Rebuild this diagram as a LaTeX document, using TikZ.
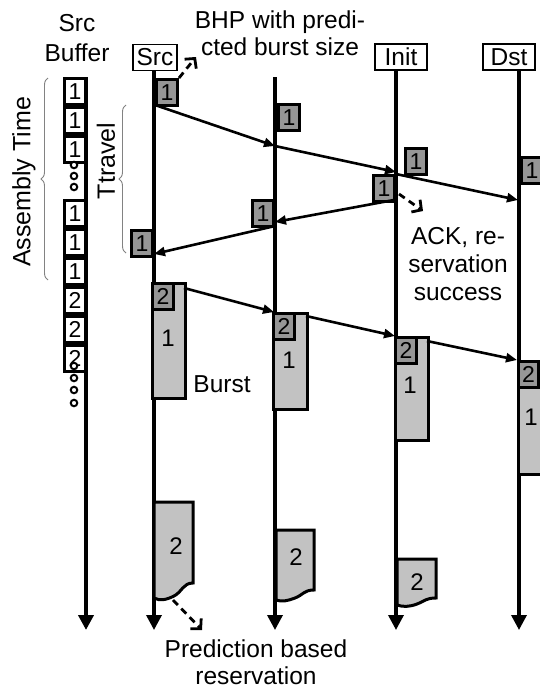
\documentclass[tikz,border=0pt]{standalone}
\usepackage{fontspec}
\setmainfont{Liberation Sans}
\usetikzlibrary{arrows.meta,decorations.pathreplacing}
\definecolor{bhpgray}{RGB}{150,150,150}
\definecolor{burstgray}{RGB}{194,194,194}
\definecolor{bracegray}{RGB}{130,130,130}
\begin{document}
\begin{tikzpicture}[x=1pt,y=-1pt,
  txt/.style={font=\fontsize{24.5}{28}\selectfont,align=center,inner sep=0pt},
  num/.style={font=\fontsize{24}{24}\selectfont,inner sep=0pt},
  hdr/.style={draw,line width=1.2pt,fill=white,inner sep=0pt,minimum height=26pt,font=\fontsize{24.5}{25}\selectfont},
  lifeline/.style={line width=3.4pt,-{Triangle[length=15pt,width=15pt]}},
  msg/.style={line width=2.6pt,-{Triangle[length=11pt,width=9pt]}},
  bhp/.style={draw,line width=3pt,fill=bhpgray,inner sep=0pt,minimum width=21pt,minimum height=26pt,font=\fontsize{23}{23}\selectfont},
  bufbox/.style={draw,line width=3pt,fill=white,inner sep=0pt,minimum width=21pt,minimum height=26pt,font=\fontsize{23}{23}\selectfont},
  burstbox/.style={draw,line width=3pt,fill=burstgray,inner sep=0pt},
  note/.style={dashed,dash pattern=on 7pt off 5pt,line width=2.8pt,-{Straight Barb[length=7pt,width=15pt,line join=miter]}},
  bracestyle/.style={draw=bracegray,line width=0.9pt,decorate,decoration={brace,amplitude=7pt}},
  bufdot/.style={draw,line width=2pt,fill=white,circle,inner sep=0pt,minimum size=6.5pt}
]
\useasboundingbox (0,0) rectangle (539,688);

% headers and labels
\node[txt,font=\fontsize{24.5}{30}\selectfont] (srcbuf) at (77,38) {Src\\Buffer};
\node[hdr,minimum width=44pt] (src) at (155,57.5) {Src};
\node[hdr,minimum width=52pt] (init) at (401,57) {Init};
\node[hdr,minimum width=52pt] (dst) at (509,57) {Dst};
\node[txt,font=\fontsize{24.5}{27}\selectfont] (bhptext) at (280,33) {BHP with predi-\\cted burst size};

% lifeline end points
\coordinate (buftop) at (86,77);
\coordinate (bufbot) at (86,630);
\coordinate (srctop) at (154,70);
\coordinate (srcbot) at (154,630);
\coordinate (ltop) at (275,77);
\coordinate (lbot) at (275,630);
\coordinate (inittop) at (396,70);
\coordinate (initbot) at (396,630);
\coordinate (dsttop) at (519,70);
\coordinate (dstbot) at (519,630);

\draw[lifeline,line width=4pt] (buftop) -- (bufbot);
\draw[lifeline] (srctop) -- (srcbot);
\draw[lifeline] (ltop) -- (lbot);
\draw[lifeline] (inittop) -- (initbot);
\draw[lifeline] (dsttop) -- (dstbot);

% source buffer
\node[bufbox,anchor=north east] (b1) at (87,77) {1};
\node[bufbox,anchor=north east] (b2) at (b1.south east) {1};
\node[bufbox,anchor=north east] (b3) at (b2.south east) {1};
\node[bufdot] (d1) at (74,165) {};
\node[bufdot] (d2) at (74,176) {};
\node[bufdot] (d3) at (74,187) {};
\node[bufbox,anchor=north east] (b4) at (87,199) {1};
\node[bufbox,anchor=north east] (b5) at (b4.south east) {1};
\node[bufbox,anchor=north east] (b6) at (b5.south east) {1};
\node[bufbox,anchor=north east] (b7) at (b6.south east) {2};
\node[bufbox,anchor=north east] (b8) at (b7.south east) {2};
\node[bufbox,anchor=north east] (b9) at (b8.south east) {2};
\node[bufdot] (d4) at (74,366) {};
\node[bufdot] (d5) at (74,378) {};
\node[bufdot] (d6) at (74,390) {};
\node[bufdot] (d7) at (74,403) {};

% braces
\draw[bracestyle] (48,280) -- (48,78);
\node[txt,font=\fontsize{25}{25}\selectfont,rotate=90] (asm) at (24,182) {Assembly Time};
\draw[bracestyle] (126,253) -- (126,105);
\node[txt,font=\fontsize{25}{25}\selectfont,rotate=90] (ttravel) at (106,161) {Ttravel};

% BHP control packets
\node[bhp,anchor=north west] (s1) at (155,78) {1};
\node[bhp,anchor=north west] (l1) at (277,103) {1};
\node[bhp,anchor=north west] (i1) at (404,147) {1};
\node[bhp,anchor=north west] (dd1) at (520,156) {1};
\node[bhp,anchor=north east] (ia) at (396,174) {1};
\node[bhp,anchor=north east] (la) at (275,199) {1};
\node[bhp,anchor=north east] (sa) at (154,229) {1};

% bursts
\node[burstbox,minimum width=33pt,minimum height=115pt,anchor=north west] (bs) at (151,282) {};
\node[bhp,anchor=north west] (bs2) at (bs.north west) {2};
\node[num] (bs1) at (168,338) {1};
\node[txt] (bursttxt) at (222,384) {Burst};

\node[burstbox,minimum width=34pt,minimum height=96pt,anchor=north west] (bl) at (272,312) {};
\node[bhp,anchor=north west] (bl2) at (bl.north west) {2};
\node[num] (bl1) at (289,360) {1};

\node[burstbox,minimum width=33pt,minimum height=103pt,anchor=north west] (bi) at (394,336) {};
\node[bhp,anchor=north west] (bi2) at (bi.north west) {2};
\node[num] (bi1) at (410,385) {1};

\node[burstbox,minimum width=30pt,minimum height=113pt,anchor=north west] (bd) at (517,360) {};
\node[bhp,minimum width=20pt,anchor=north west] (bd2) at (bd.north west) {2};
\node[num] (bd1) at (531,417) {1};

% predicted bursts (torn bottoms)
\draw[burstbox] (154,502) -- (193,502) -- (193,583)
  .. controls +(-10,0) and +(8,-4) .. (174,596)
  .. controls +(-8,4) and +(6,3) .. (154,598) -- cycle;
\node[num] (p1) at (176,546) {2};
\draw[burstbox] (276,530) -- (314,530) -- (314,590)
  .. controls +(-10,0) and +(8,-3) .. (295,598)
  .. controls +(-8,3) and +(6,2) .. (276,600) -- cycle;
\node[num] (p2) at (296,557) {2};
\draw[burstbox] (397,559) -- (436,559) -- (436,598)
  .. controls +(-10,0) and +(8,-3) .. (417,604)
  .. controls +(-8,3) and +(6,2) .. (397,605) -- cycle;
\node[num] (p3) at (417,582) {2};

% message coordinates
\coordinate (m1a) at (155,105);
\coordinate (m1b) at (275,146);
\coordinate (m2b) at (396,172);
\coordinate (m3a) at (396,174);
\coordinate (m3b) at (518,200);
\coordinate (m4a) at (394,200);
\coordinate (m4b) at (275,222);
\coordinate (m5a) at (275,226);
\coordinate (m5b) at (154,254);
\coordinate (m6a) at (184,288);
\coordinate (m6b) at (274,312);
\coordinate (m7a) at (306,316);
\coordinate (m7b) at (395,336);
\coordinate (m8a) at (427,341);
\coordinate (m8b) at (517,360);

\draw[msg] (m1a) -- (m1b);
\draw[msg] (m1b) -- (m2b);
\draw[msg] (m3a) -- (m3b);
\draw[msg] (m4a) -- (m4b);
\draw[msg] (m5a) -- (m5b);
\draw[msg] (m6a) -- (m6b);
\draw[msg] (m7a) -- (m7b);
\draw[msg] (m8a) -- (m8b);

% notes
\coordinate (n1) at (196,57);
\draw[note] (s1.north east) -- (n1);
\node[txt] (ack) at (458,264) {ACK, re-\\servation\\success};
\coordinate (n2a) at (399,194);
\coordinate (n2b) at (423,211);
\draw[note] (n2a) -- (n2b);
\node[txt,font=\fontsize{24.5}{27}\selectfont] (pred) at (256,662) {Prediction based\\reservation};
\coordinate (n3a) at (173,600);
\coordinate (n3b) at (202,630);
\draw[note] (n3a) -- (n3b);
\end{tikzpicture}
\end{document}
